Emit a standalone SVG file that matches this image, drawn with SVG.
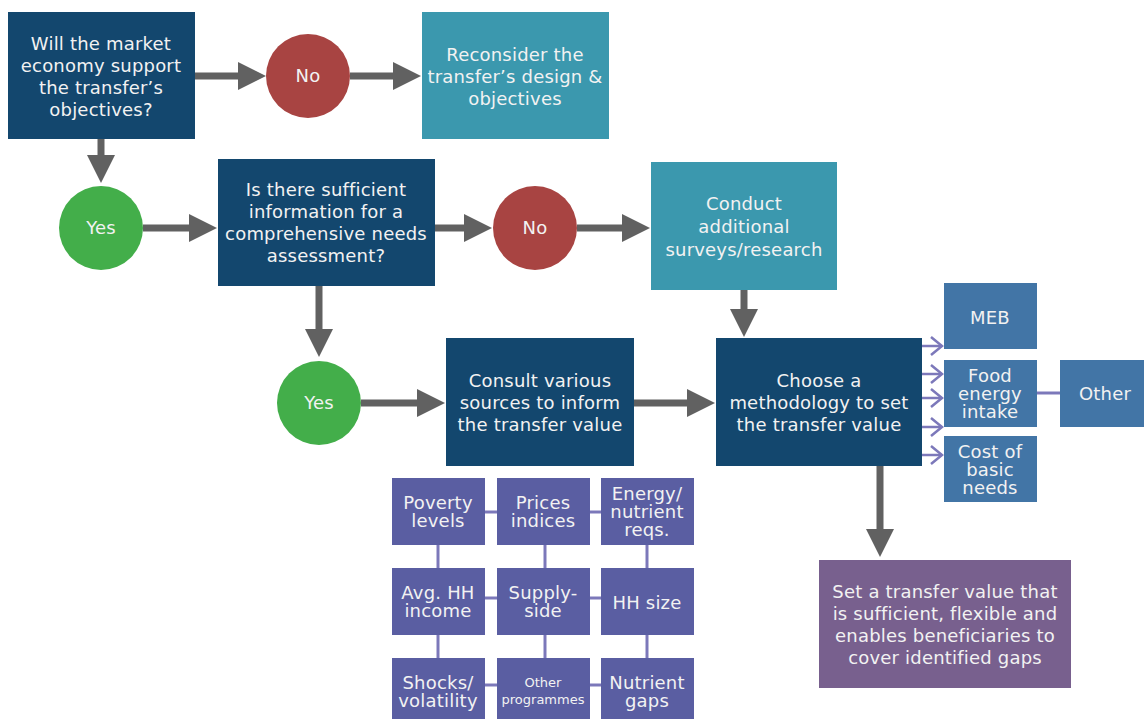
<svg xmlns="http://www.w3.org/2000/svg" width="1144" height="719" viewBox="0 0 1144 719">
<style>
text{font-family:"DejaVu Sans","Liberation Sans",sans-serif;fill:#F2F2F2;text-anchor:middle;font-size:18px;letter-spacing:0.2px}
.navy{fill:#13476E}
.teal{fill:#3B98AE}
.red{fill:#A84442}
.green{fill:#43AE4A}
.steel{fill:#4275A6}
.grid{fill:#5A5EA2}
.final{fill:#78608E}
.arr{stroke:#616161;stroke-width:7;fill:none}
.thin{stroke:#7C78BA;stroke-width:3;fill:none}
.chev{stroke:#7C78BA;stroke-width:2.5;fill:none}
.small{font-size:13px;letter-spacing:0}
</style>
<defs>
<marker id="ah" markerUnits="userSpaceOnUse" markerWidth="30" markerHeight="30" refX="1" refY="14" orient="auto">
<path d="M0,0 L28,14 L0,28 z" fill="#616161"/>
</marker>
<marker id="ch" markerUnits="userSpaceOnUse" markerWidth="16" markerHeight="22" refX="13" refY="10" orient="auto">
<path d="M2,1 L13,10 L2,19" stroke="#7C78BA" stroke-width="2.5" fill="none"/>
</marker>
</defs>
<rect width="1144" height="719" fill="#FFFFFF"/>

<g id="connectors">
<line class="arr" x1="194" y1="76" x2="239" y2="76" marker-end="url(#ah)"/>
<line class="arr" x1="350" y1="76" x2="394" y2="76" marker-end="url(#ah)"/>
<line class="arr" x1="101" y1="139" x2="101" y2="156" marker-end="url(#ah)"/>
<line class="arr" x1="143" y1="228" x2="190" y2="228" marker-end="url(#ah)"/>
<line class="arr" x1="435" y1="228" x2="465" y2="228" marker-end="url(#ah)"/>
<line class="arr" x1="577" y1="228" x2="623" y2="228" marker-end="url(#ah)"/>
<line class="arr" x1="319" y1="286" x2="319" y2="330" marker-end="url(#ah)"/>
<line class="arr" x1="361" y1="403" x2="418" y2="403" marker-end="url(#ah)"/>
<line class="arr" x1="634" y1="403" x2="688" y2="403" marker-end="url(#ah)"/>
<line class="arr" x1="744" y1="290" x2="744" y2="310" marker-end="url(#ah)"/>
<line class="arr" x1="880" y1="466" x2="880" y2="530" marker-end="url(#ah)"/>
<line class="chev" x1="922" y1="346" x2="942" y2="346" marker-end="url(#ch)"/>
<line class="chev" x1="922" y1="374" x2="942" y2="374" marker-end="url(#ch)"/>
<line class="chev" x1="922" y1="398" x2="942" y2="398" marker-end="url(#ch)"/>
<line class="chev" x1="922" y1="427" x2="942" y2="427" marker-end="url(#ch)"/>
<line class="chev" x1="922" y1="455" x2="942" y2="455" marker-end="url(#ch)"/>
<line class="thin" x1="1037" y1="393" x2="1060" y2="393"/>
<line class="thin" x1="485" y1="512" x2="497" y2="512"/>
<line class="thin" x1="590" y1="512" x2="601" y2="512"/>
<line class="thin" x1="485" y1="598" x2="497" y2="598"/>
<line class="thin" x1="590" y1="598" x2="601" y2="598"/>
<line class="thin" x1="485" y1="685" x2="497" y2="685"/>
<line class="thin" x1="590" y1="685" x2="601" y2="685"/>
<line class="thin" x1="438" y1="545" x2="438" y2="568"/>
<line class="thin" x1="545" y1="545" x2="545" y2="568"/>
<line class="thin" x1="647" y1="545" x2="647" y2="568"/>
<line class="thin" x1="438" y1="635" x2="438" y2="658"/>
<line class="thin" x1="545" y1="635" x2="545" y2="658"/>
<line class="thin" x1="647" y1="635" x2="647" y2="658"/>
</g>

<g id="q1">
<rect class="navy" x="8" y="12" width="187" height="127"/>
<text x="101" y="50"><tspan x="101">Will the market</tspan><tspan x="101" dy="22">economy support</tspan><tspan x="101" dy="22">the transfer’s</tspan><tspan x="101" dy="22">objectives?</tspan></text>
</g>
<g id="no1">
<circle class="red" cx="308" cy="76" r="42"/>
<text x="308" y="82">No</text>
</g>
<g id="reconsider">
<rect class="teal" x="422" y="12" width="187" height="127"/>
<text x="515" y="61"><tspan x="515">Reconsider the</tspan><tspan x="515" dy="22">transfer’s design &amp;</tspan><tspan x="515" dy="22">objectives</tspan></text>
</g>
<g id="yes1">
<circle class="green" cx="101" cy="228" r="42"/>
<text x="101" y="234">Yes</text>
</g>
<g id="q2">
<rect class="navy" x="218" y="159" width="217" height="127"/>
<text x="326" y="196"><tspan x="326">Is there sufficient</tspan><tspan x="326" dy="22">information for a</tspan><tspan x="326" dy="22">comprehensive needs</tspan><tspan x="326" dy="22">assessment?</tspan></text>
</g>
<g id="no2">
<circle class="red" cx="535" cy="228" r="42"/>
<text x="535" y="234">No</text>
</g>
<g id="conduct">
<rect class="teal" x="651" y="162" width="186" height="128"/>
<text x="744" y="210"><tspan x="744">Conduct</tspan><tspan x="744" dy="23">additional</tspan><tspan x="744" dy="23">surveys/research</tspan></text>
</g>
<g id="yes2">
<circle class="green" cx="319" cy="403" r="42"/>
<text x="319" y="409">Yes</text>
</g>
<g id="consult">
<rect class="navy" x="446" y="338" width="188" height="128"/>
<text x="540" y="387"><tspan x="540">Consult various</tspan><tspan x="540" dy="22">sources to inform</tspan><tspan x="540" dy="22">the transfer value</tspan></text>
</g>
<g id="choose">
<rect class="navy" x="716" y="338" width="206" height="128"/>
<text x="819" y="387"><tspan x="819">Choose a</tspan><tspan x="819" dy="22">methodology to set</tspan><tspan x="819" dy="22">the transfer value</tspan></text>
</g>
<g id="meb">
<rect class="steel" x="944" y="283" width="93" height="66"/>
<text x="990" y="324">MEB</text>
</g>
<g id="food">
<rect class="steel" x="944" y="360" width="93" height="67"/>
<text x="990" y="382"><tspan x="990">Food</tspan><tspan x="990" dy="18">energy</tspan><tspan x="990" dy="18">intake</tspan></text>
</g>
<g id="cost">
<rect class="steel" x="944" y="436" width="93" height="66"/>
<text x="990" y="458"><tspan x="990">Cost of</tspan><tspan x="990" dy="18">basic</tspan><tspan x="990" dy="18">needs</tspan></text>
</g>
<g id="other">
<rect class="steel" x="1060" y="360" width="84" height="67"/>
<text x="1105" y="400">Other</text>
</g>
<g id="final">
<rect class="final" x="819" y="560" width="252" height="128"/>
<text x="945" y="598"><tspan x="945">Set a transfer value that</tspan><tspan x="945" dy="22">is sufficient, flexible and</tspan><tspan x="945" dy="22">enables beneficiaries to</tspan><tspan x="945" dy="22">cover identified gaps</tspan></text>
</g>

<g id="poverty">
<rect class="grid" x="392" y="478" width="93" height="67"/>
<text x="438" y="509"><tspan x="438">Poverty</tspan><tspan x="438" dy="18">levels</tspan></text>
</g>
<g id="prices">
<rect class="grid" x="497" y="478" width="93" height="67"/>
<text x="543" y="509"><tspan x="543">Prices</tspan><tspan x="543" dy="18">indices</tspan></text>
</g>
<g id="energy">
<rect class="grid" x="601" y="478" width="93" height="67"/>
<text x="647" y="500"><tspan x="647">Energy/</tspan><tspan x="647" dy="18">nutrient</tspan><tspan x="647" dy="18">reqs.</tspan></text>
</g>
<g id="income">
<rect class="grid" x="392" y="568" width="93" height="67"/>
<text x="438" y="599"><tspan x="438">Avg. HH</tspan><tspan x="438" dy="18">income</tspan></text>
</g>
<g id="supply">
<rect class="grid" x="497" y="568" width="93" height="67"/>
<text x="543" y="599"><tspan x="543">Supply-</tspan><tspan x="543" dy="18">side</tspan></text>
</g>
<g id="hhsize">
<rect class="grid" x="601" y="568" width="93" height="67"/>
<text x="647" y="609">HH size</text>
</g>
<g id="shocks">
<rect class="grid" x="392" y="658" width="93" height="61"/>
<text x="438" y="689"><tspan x="438">Shocks/</tspan><tspan x="438" dy="18">volatility</tspan></text>
</g>
<g id="otherprog">
<rect class="grid" x="497" y="658" width="93" height="61"/>
<text class="small" x="543" y="687"><tspan x="543">Other</tspan><tspan x="543" dy="17">programmes</tspan></text>
</g>
<g id="gaps">
<rect class="grid" x="601" y="658" width="93" height="61"/>
<text x="647" y="689"><tspan x="647">Nutrient</tspan><tspan x="647" dy="18">gaps</tspan></text>
</g>
</svg>
